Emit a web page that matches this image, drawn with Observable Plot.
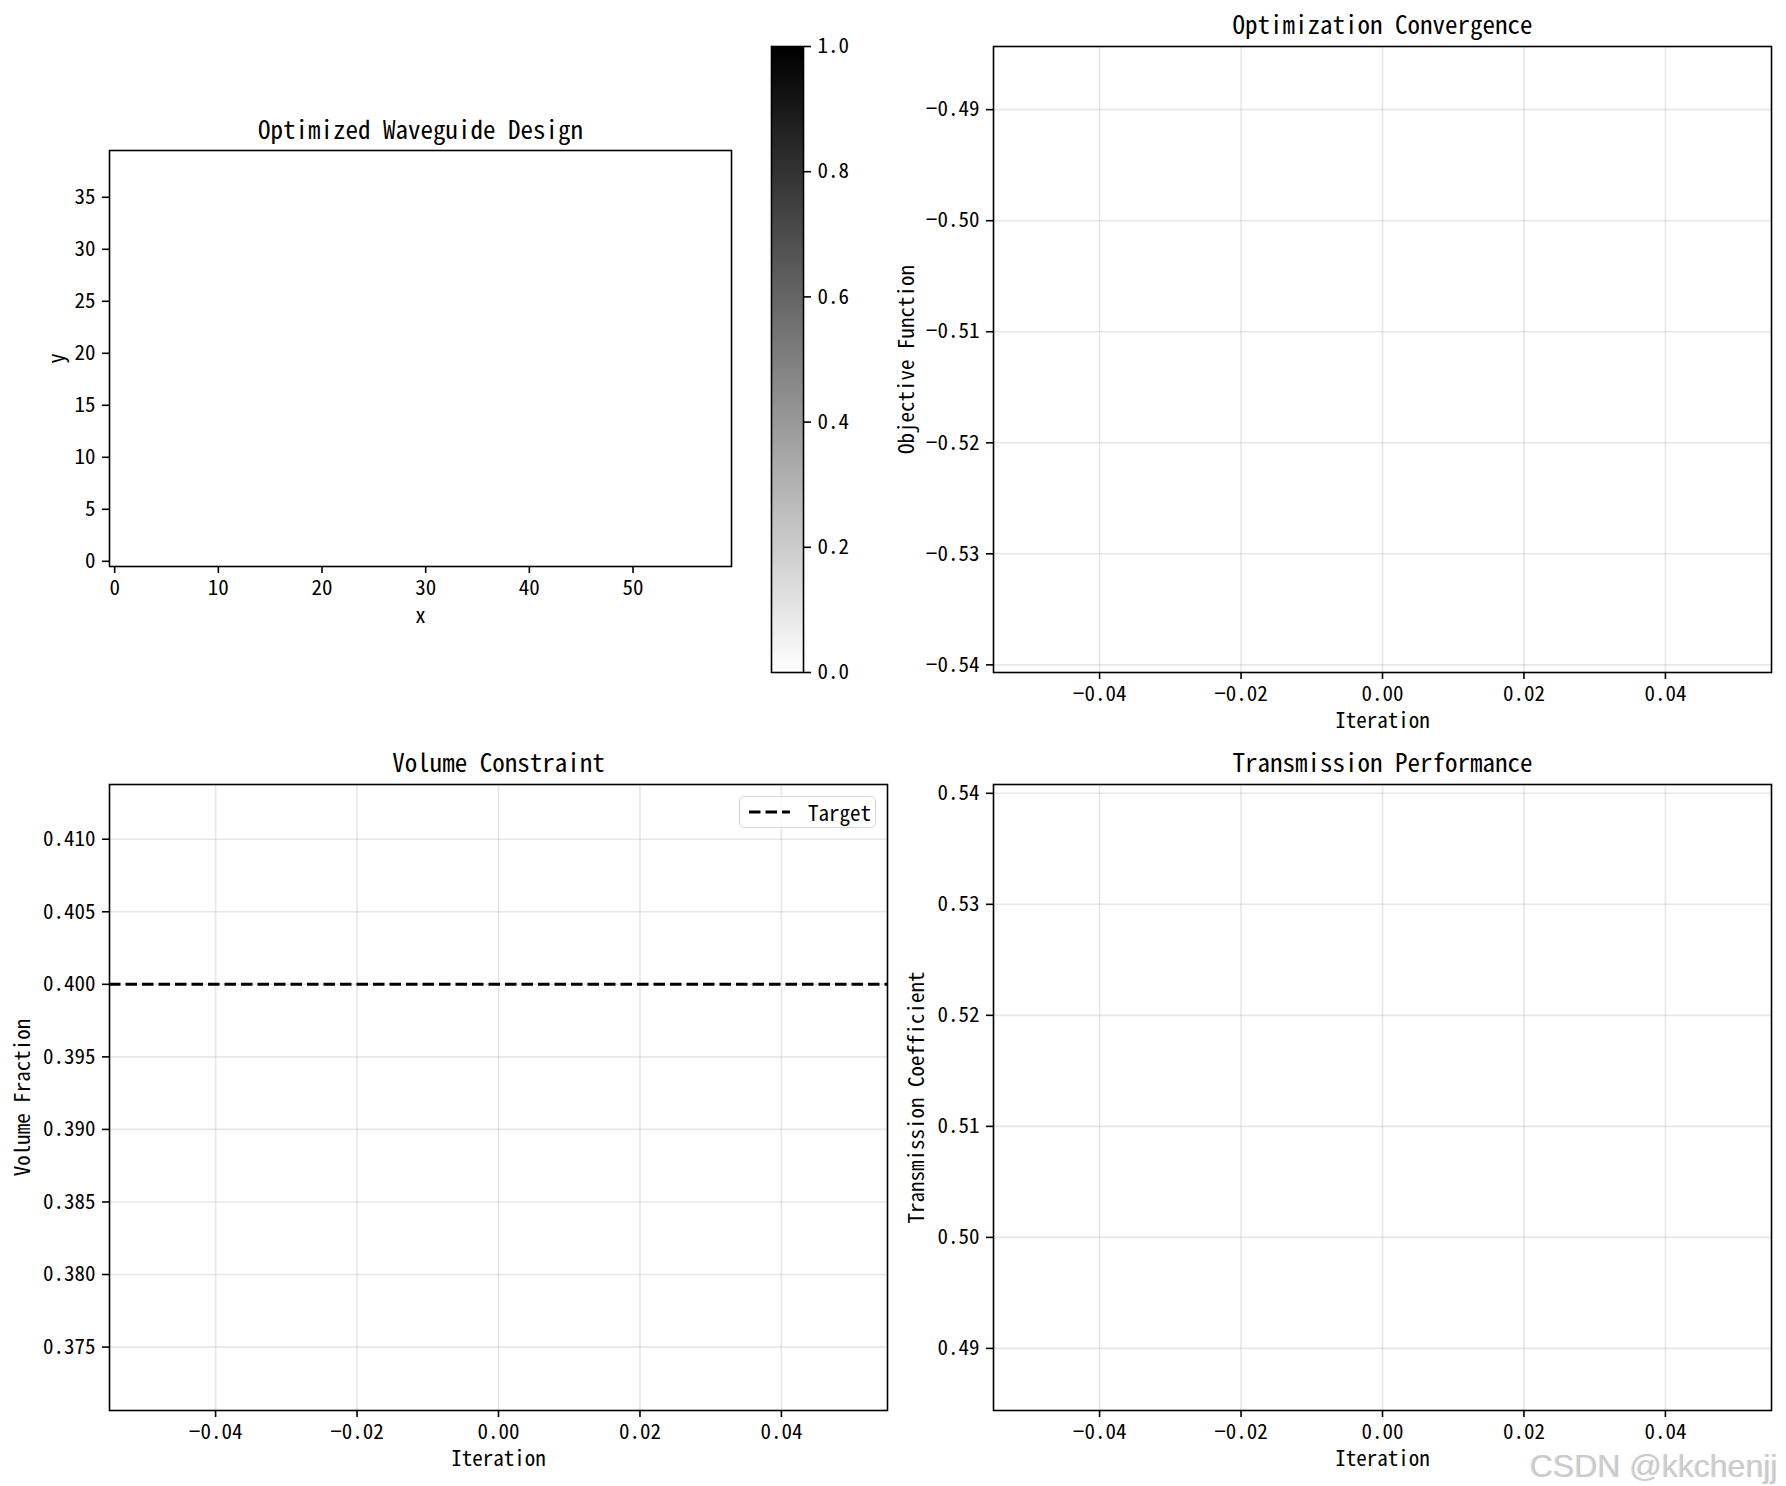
<!DOCTYPE html>
<html>
<head>
<meta charset="utf-8">
<script src="https://cdn.jsdelivr.net/npm/d3@7"></script>
<script src="https://cdn.jsdelivr.net/npm/@observablehq/plot@0.6"></script>
<style>
  html, body { margin: 0; padding: 0; background: #fff; }
  #fig { position: relative; width: 1786px; height: 1486px; overflow: hidden; background: #fff; }
  .panel { position: absolute; }
  .panel svg { overflow: visible; }
  #legend {
    position: absolute; left: 739px; top: 796px; width: 135px; height: 30px;
    border: 1.5px solid #d6d6d6; border-radius: 5px; background: rgba(255,255,255,0.8);
    box-sizing: content-box;
  }
  #legend svg { position: absolute; left: 0; top: 0; }
  #watermark {
    position: absolute; left: 1530px; top: 1453px; line-height: 26px;
    font-family: "Liberation Sans", Arial, sans-serif; font-size: 32px;
    color: #cbcbcb; text-shadow: 1px 1px 0 #ffffff, -1px 0 0 #e4e4e4; white-space: nowrap;
  }
</style>
</head>
<body>
<div id="fig"></div>
<script>
// ---------------- data ----------------
const iterations = [0];
const objectiveValues = [-0.5125];
const volumeFractions = [0.3922];
const transmissionValues = [0.5126];
const volumeTarget = [0.4];

const designCols = 60;
const designRows = 40;
const designDensity = 0;

const designXTicks = [0, 10, 20, 30, 40, 50];
const designYTicks = [0, 5, 10, 15, 20, 25, 30, 35];
const colorbarTicks = [0, 0.2, 0.4, 0.6, 0.8, 1.0];
const iterationTicks = [-0.04, -0.02, 0, 0.02, 0.04];
const objectiveTicks = [-0.54, -0.53, -0.52, -0.51, -0.50, -0.49];
const volumeTicks = [0.375, 0.380, 0.385, 0.390, 0.395, 0.400, 0.405, 0.410];
const transmissionTicks = [0.49, 0.50, 0.51, 0.52, 0.53, 0.54];

const panelTitles = ["Optimized Waveguide Design", "Optimization Convergence", "Volume Constraint", "Transmission Performance"];
const legendLabels = ["Target"];
const watermarkText = "CSDN @kkchenjj";

// ---------------- helpers ----------------
const FONT = '"Noto Sans Mono CJK SC", "Noto Sans CJK SC", "DejaVu Sans Mono", monospace';
const fig = document.getElementById("fig");
const TICK = 7, PAD = 7, LW = 1.6;
const gridStyle = {stroke: "#b0b0b0", strokeOpacity: 0.3, strokeWidth: 1.6};

// matplotlib-like autoscale for a (possibly singular) set of values
function autoDomain(vals) {
  let a = d3.min(vals), b = d3.max(vals);
  if (b - a < 1e-12 * Math.max(1, Math.abs(a))) {
    if (a === 0) { a = -0.05; b = 0.05; }
    else { a -= 0.05 * Math.abs(a); b += 0.05 * Math.abs(b); }
  }
  const m = (b - a) * 0.05;
  return [a - m, b + m];
}

function place(svg, left, top) {
  const d = document.createElement("div");
  d.className = "panel";
  d.style.left = left + "px";
  d.style.top = top + "px";
  d.appendChild(svg);
  fig.appendChild(d);
}

function titleMark(t, dy) {
  return Plot.text([t], {text: d => d, frameAnchor: "top", dy, fontSize: 25, lineAnchor: "middle", textAnchor: "middle", fill: "black"});
}
function xLabelMark(t, dy) {
  return Plot.text([t], {text: d => d, frameAnchor: "bottom", dy, fontSize: 21, lineAnchor: "middle", textAnchor: "middle", fill: "black"});
}
function yLabelMark(t, dx) {
  return Plot.text([t], {text: d => d, frameAnchor: "left", dx: -dx, rotate: -90, fontSize: 21, lineAnchor: "middle", textAnchor: "middle", fill: "black"});
}
const baseStyle = {fontFamily: FONT, fontSize: "21px", color: "black", background: "transparent", overflow: "visible"};

// ---------------- panel 1: design (imshow) ----------------
{
  const W = 760, H = 530;
  const svg = Plot.plot({
    width: W, height: H,
    marginLeft: 109, marginRight: 29, marginTop: 50, marginBottom: 64,
    style: baseStyle,
    x: {domain: [-0.5, designCols - 0.5]},
    y: {domain: [-0.5, designRows - 0.5]},
    color: {type: "linear", domain: [0, 1], range: ["#ffffff", "#000000"], interpolate: "rgb"},
    marks: [
      Plot.raster({x1: -0.5, x2: designCols - 0.5, y1: -0.5, y2: designRows - 0.5, width: designCols, height: designRows, fill: () => designDensity}),
      Plot.frame({stroke: "black", strokeWidth: LW}),
      Plot.axisX(designXTicks, {anchor: "bottom", tickSize: TICK, tickPadding: PAD, strokeWidth: LW, tickFormat: d3.format("d"), label: null}),
      Plot.axisY(designYTicks, {anchor: "left", tickSize: TICK, tickPadding: PAD, strokeWidth: LW, tickFormat: d3.format("d"), label: null}),
      titleMark(panelTitles[0], -20),
      xLabelMark("x", 50),
      yLabelMark("y", 52)
    ]
  });
  place(svg, 0, 100);
}

// ---------------- colorbar ----------------
{
  const W = 140, H = 700;
  const svg = Plot.plot({
    width: W, height: H,
    marginLeft: 31, marginRight: 77, marginTop: 46, marginBottom: 28,
    style: baseStyle,
    x: {domain: [0, 1], axis: null},
    y: {domain: [0, 1]},
    color: {type: "linear", domain: [0, 1], range: ["#ffffff", "#000000"], interpolate: "rgb"},
    marks: [
      Plot.raster({x1: 0, x2: 1, y1: 0, y2: 1, width: 1, height: 256, fill: (x, y) => y}),
      Plot.frame({stroke: "black", strokeWidth: LW}),
      Plot.axisY(colorbarTicks, {anchor: "right", tickSize: TICK, tickPadding: PAD, strokeWidth: LW, tickFormat: d3.format(".1f"), label: null})
    ]
  });
  place(svg, 740, 0);
}

// ---------------- line panels ----------------
function linePanel({left, top, values, ticks, fmt, title, ylabel, yoff, extra = []}) {
  const data = iterations.map((it, i) => ({it, v: values[i]}));
  const svg = Plot.plot({
    width: left === 0 ? 900 : 886,
    height: top === 0 ? 760 : 746,
    marginLeft: left === 0 ? 109 : 93,
    marginRight: left === 0 ? 13 : 15,
    marginTop: top === 0 ? 46 : 44,
    marginBottom: top === 0 ? 88 : 76,
    style: baseStyle,
    x: {domain: autoDomain(iterations)},
    y: {domain: autoDomain(values)},
    marks: [
      Plot.gridX(iterationTicks, gridStyle),
      Plot.gridY(ticks, gridStyle),
      // a single-point line: like matplotlib, nothing visible is drawn
      Plot.line(data, {x: "it", y: "v", stroke: "#1f77b4", strokeWidth: 3, strokeLinecap: "butt"}),
      ...extra,
      Plot.frame({stroke: "black", strokeWidth: LW}),
      Plot.axisX(iterationTicks, {anchor: "bottom", tickSize: TICK, tickPadding: PAD, strokeWidth: LW, tickFormat: d3.format(".2f"), label: null}),
      Plot.axisY(ticks, {anchor: "left", tickSize: TICK, tickPadding: PAD, strokeWidth: LW, tickFormat: d3.format(fmt), label: null}),
      titleMark(title, -21),
      xLabelMark("Iteration", 49),
      yLabelMark(ylabel, yoff)
    ]
  });
  place(svg, left, top);
}

linePanel({left: 900, top: 0, values: objectiveValues, ticks: objectiveTicks, fmt: ".2f",
  title: panelTitles[1], ylabel: "Objective Function", yoff: 86});

linePanel({left: 0, top: 740, values: volumeFractions, ticks: volumeTicks, fmt: ".3f",
  title: panelTitles[2], ylabel: "Volume Fraction", yoff: 86,
  extra: [Plot.ruleY(volumeTarget, {stroke: "black", strokeWidth: 3.1, strokeDasharray: "11.5,5"})]});

linePanel({left: 900, top: 740, values: transmissionValues, ticks: transmissionTicks, fmt: ".2f",
  title: panelTitles[3], ylabel: "Transmission Coefficient", yoff: 76});

// ---------------- legend ----------------
{
  const lg = document.createElement("div");
  lg.id = "legend";
  const s = d3.create("svg").attr("width", 135).attr("height", 30);
  s.append("line").attr("x1", 9).attr("x2", 50).attr("y1", 15).attr("y2", 15)
    .attr("stroke", "black").attr("stroke-width", 3.1).attr("stroke-dasharray", "11.5,5");
  s.append("text").attr("x", 68).attr("y", 15).attr("dominant-baseline", "central")
    .attr("font-family", FONT).attr("font-size", 21).attr("fill", "black").text(legendLabels[0]);
  lg.appendChild(s.node());
  fig.appendChild(lg);
}

// ---------------- watermark ----------------
{
  const wm = document.createElement("div");
  wm.id = "watermark";
  wm.textContent = watermarkText;
  fig.appendChild(wm);
}
</script>
</body>
</html>
